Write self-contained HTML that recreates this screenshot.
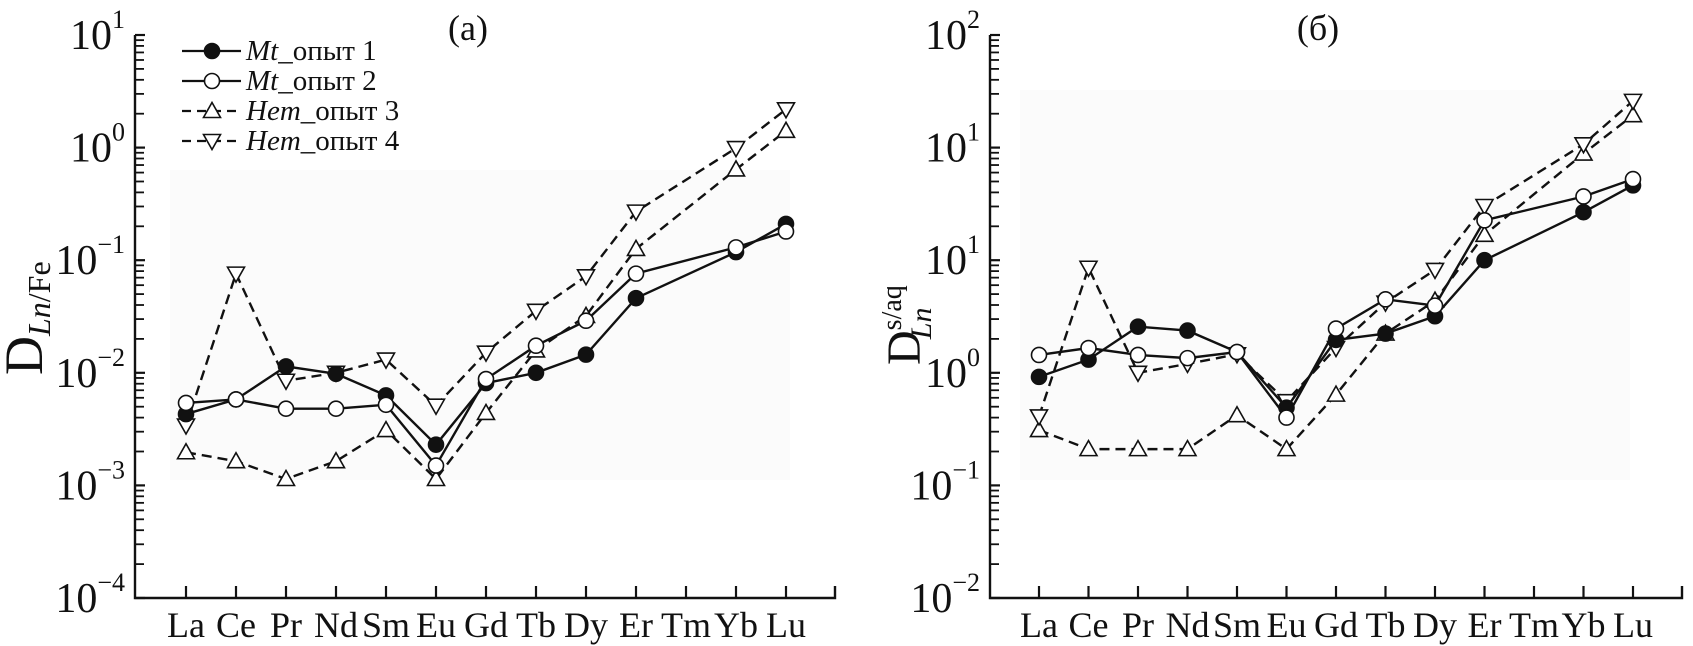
<!DOCTYPE html>
<html><head><meta charset="utf-8">
<style>
html,body{margin:0;padding:0;background:#fff;}
svg{display:block;font-family:"Liberation Serif",serif;}
</style></head>
<body>
<svg id="chart" width="1693" height="646" viewBox="0 0 1693 646" xmlns="http://www.w3.org/2000/svg"></svg>
<script>
const categories = ["La","Ce","Pr","Nd","Sm","Eu","Gd","Tb","Dy","Er","Tm","Yb","Lu"];
// Panel (a): D Ln/Fe
const a_mt1 = [0.0043,0.0058,0.0114,0.0098,0.0063,0.0023,0.0081,0.0100,0.0145,0.046,null,0.118,0.21];
const a_mt2 = [0.0054,0.0058,0.0048,0.0048,0.0052,0.0015,0.0088,0.0174,0.029,0.076,null,0.13,0.18];
const a_hem3 = [0.00197,0.00164,0.00114,0.00164,0.0031,0.00114,0.0044,0.0158,0.032,0.126,null,0.64,1.41];
const a_hem4 = [0.0034,0.076,0.0085,0.0100,0.0131,0.0051,0.0151,0.0355,0.072,0.27,null,0.99,2.19];
const a_tickExp = ["1","0","\u22121","\u22122","\u22123","\u22124"];
// Panel (б): D s/aq (values in plotted-axis units)
const b_mt1 = [0.92,1.31,2.57,2.37,1.53,0.49,1.96,2.23,3.18,10.0,null,26.7,46.2];
const b_mt2 = [1.44,1.66,1.44,1.35,1.53,0.40,2.47,4.49,3.95,22.6,null,36.8,52.5];
const b_hem3 = [0.31,0.21,0.21,0.21,0.42,0.21,0.64,2.23,4.37,16.8,null,88.5,194];
const b_hem4 = [0.41,8.57,1.0,1.20,1.46,0.56,1.66,4.2,8.2,30.3,null,107,260];
const b_tickExp = ["2","1","1","0","\u22121","\u22122"];

const NS="http://www.w3.org/2000/svg";
const svg=document.getElementById('chart');
function mk(tag,attrs,parent){const e=document.createElementNS(NS,tag);for(const k in attrs)e.setAttribute(k,attrs[k]);(parent||svg).appendChild(e);return e;}

function panel(cfg){
  const g=mk('g',{});
  
  
  const yTop=35,yBot=598;
  const y=v=>yBot-(Math.log10(v)-cfg.lo)/(cfg.hi-cfg.lo)*(yBot-yTop);
  const x=i=>cfg.x0+i*cfg.step;
  const bg=mk('rect',{x:cfg.bg[0],y:cfg.bg[1],width:cfg.bg[2],height:cfg.bg[3],fill:'#fbfbfb'},g);
  
  
  const ax=mk('path',{d:`M${cfg.ax} ${yTop} V${yBot} H${cfg.axEnd} V${yBot-12}`,stroke:'#111','stroke-width':2.4,fill:'none'},g);
  
  
  for(let d=cfg.lo; d<=cfg.hi; d++){
    const yy=y(Math.pow(10,d));
    mk('line',{x1:cfg.ax,x2:cfg.ax+10,y1:yy,y2:yy,stroke:'#111','stroke-width':2.2},g);
    if(d<cfg.hi){for(let m=2;m<=9;m++){const ym=y(m*Math.pow(10,d));mk('line',{x1:cfg.ax,x2:cfg.ax+9,y1:ym,y2:ym,stroke:'#111','stroke-width':1.8},g);}}
    const t=mk('text',{x:cfg.ax-10,y:yy+14,'text-anchor':'end','font-size':42,fill:'#111'},g);
    
    
    const exp=cfg.ticks[cfg.hi-d];
    t.innerHTML=`10<tspan dy="-21" font-size="26">${exp}</tspan>`;
  }
  categories.forEach((c,i)=>{
    mk('line',{x1:x(i),x2:x(i),y1:yBot,y2:yBot-12,stroke:'#111','stroke-width':2.2},g);
    const t=mk('text',{x:x(i),y:637,'text-anchor':'middle','font-size':36,fill:'#111'},g);
    
    
    t.textContent=c;
  });
  cfg.series.forEach(s=>{
    let d='';let pen=false;
    s.data.forEach((v,i)=>{if(v==null)return;d+=(pen?'L':'M')+x(i)+' '+y(v)+' ';pen=true;});
    const p=mk('path',{d,fill:'none',stroke:'#111','stroke-width':2.4,'stroke-dasharray':s.dash?'10 6':'none'},g);
    
    
    s.data.forEach((v,i)=>{if(v==null)return;const m=marker(g,s.mk,x(i),y(v));
      
      });
  });
  return g;
}
function marker(g,type,cx,cy){
  if(type==='fill')return mk('circle',{cx,cy,r:7.5,fill:'#111',stroke:'#111','stroke-width':1.6},g);
  if(type==='open')return mk('circle',{cx,cy,r:7.5,fill:'#fff',stroke:'#111','stroke-width':1.6},g);
  if(type==='up')return mk('polygon',{points:`${cx-8.5},${cy+6.5} ${cx+8.5},${cy+6.5} ${cx},${cy-8.5}`,fill:'#fff',stroke:'#111','stroke-width':1.6},g);
  return mk('polygon',{points:`${cx-8.5},${cy-6.5} ${cx+8.5},${cy-6.5} ${cx},${cy+8.5}`,fill:'#fff',stroke:'#111','stroke-width':1.6},g);
}
panel({name:'panel-a',lo:-4,hi:1,x0:186,step:50,ax:135,axEnd:835,ticks:a_tickExp,bg:[170,170,620,310],
  series:[{key:'hem3',data:a_hem3,mk:'up',dash:true},{key:'hem4',data:a_hem4,mk:'down',dash:true},
          {key:'mt1',data:a_mt1,mk:'fill',dash:false},{key:'mt2',data:a_mt2,mk:'open',dash:false}]});
panel({name:'panel-b',lo:-2,hi:3,x0:1039,step:49.5,ax:990,axEnd:1682,ticks:b_tickExp,bg:[1020,90,610,390],
  series:[{key:'hem3',data:b_hem3,mk:'up',dash:true},{key:'hem4',data:b_hem4,mk:'down',dash:true},
          {key:'mt1',data:b_mt1,mk:'fill',dash:false},{key:'mt2',data:b_mt2,mk:'open',dash:false}]});

const lg=mk('g',{});


const legendRows=[['fill',false,'Mt','опыт 1'],['open',false,'Mt','опыт 2'],['up',true,'Hem','опыт 3'],['down',true,'Hem','опыт 4']];
legendRows.forEach((r,i)=>{
  const yy=51+i*30;
  const e=mk('g',{},lg);
  
  
  mk('line',{x1:182,x2:241,y1:yy,y2:yy,stroke:'#111','stroke-width':2.2,'stroke-dasharray':r[1]?'9 6':'none'},e);
  marker(e,r[0],212,yy);
  const t=mk('text',{x:246,y:yy+9,'font-size':29,fill:'#111'},e);
  t.innerHTML=`<tspan font-style="italic">${r[2]}</tspan>_${r[3]}`;
});

const ta=mk('text',{x:468,y:40,'text-anchor':'middle','font-size':36,fill:'#111'});


ta.textContent='(a)';
const tb=mk('text',{x:1318,y:40,'text-anchor':'middle','font-size':36,fill:'#111'});


tb.textContent='(б)';

const ya=mk('text',{transform:'translate(42,375) rotate(-90)','font-size':54,fill:'#111'});


ya.innerHTML='D<tspan dy="8" font-size="32" font-style="italic">Ln</tspan><tspan font-size="32">/Fe</tspan>';
const yb=mk('text',{transform:'translate(920,365) rotate(-90)','font-size':48,fill:'#111'});


yb.innerHTML='D<tspan dy="-19" font-size="28">s/aq</tspan><tspan dx="-54" dy="30" font-size="30" font-style="italic">Ln</tspan>';
</script>
</body></html>
